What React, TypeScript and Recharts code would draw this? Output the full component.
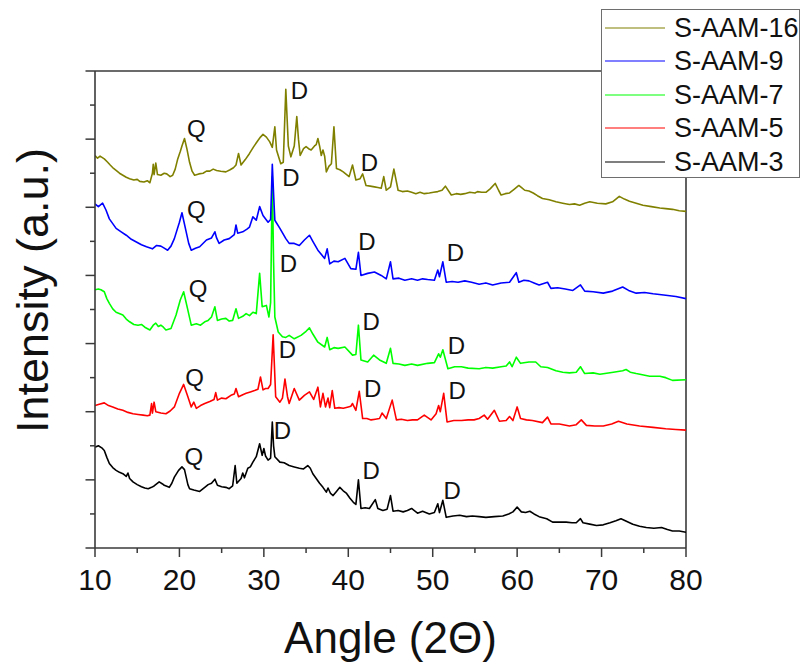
import React from 'react';
import { LineChart, Line, XAxis, YAxis, ReferenceLine, ReferenceDot, Legend } from 'recharts';

const FONT = '"Liberation Sans", Arial, Helvetica, sans-serif';
const AXIS_COLOR = '#3a3a3a';
const TEXT_COLOR = '#111';

// 2θ ticks (every 5°, labelled every 10°) and intensity ticks (labels hidden)
const ANGLE_TICKS = [10, 15, 20, 25, 30, 35, 40, 45, 50, 55, 60, 65, 70, 75, 80];
const COUNT_TICKS = [0, 50, 100, 150, 200, 250, 300, 350, 400, 450, 500, 550, 600, 650, 700];

// diffractograms, [2θ, offset intensity]
const S_AAM_16: [number, number][] = [
  [10.0, 576], [10.3, 572], [10.6, 575], [11.1, 571], [11.5, 566], [11.8, 562], [12.2, 557], [12.5, 554],
  [12.9, 550], [13.3, 547], [13.7, 544], [14.1, 542], [14.6, 540], [15.0, 541], [15.3, 538], [15.8, 537],
  [16.2, 539], [16.5, 536], [16.8, 550], [16.9, 563], [17.0, 548], [17.2, 565], [17.4, 548], [17.8, 547],
  [18.2, 550], [18.5, 549], [18.9, 545], [19.2, 547], [19.5, 556], [19.8, 571], [20.1, 582], [20.3, 590],
  [20.6, 601], [20.9, 585], [21.2, 566], [21.5, 553], [21.8, 547], [22.3, 549], [22.8, 550], [23.2, 553],
  [23.6, 553], [24.0, 556], [24.4, 554], [24.9, 553], [25.5, 552], [26.0, 555], [26.4, 558], [26.7, 562],
  [27.0, 579], [27.3, 562], [27.8, 570], [28.3, 579], [28.8, 589], [29.3, 598], [29.6, 603], [29.9, 607],
  [30.3, 603], [30.7, 596], [31.0, 588], [31.3, 618], [31.5, 584], [32.0, 564], [32.3, 566], [32.6, 673],
  [32.9, 590], [33.2, 574], [33.6, 590], [33.9, 633], [34.1, 600], [34.3, 576], [34.7, 586], [35.0, 589],
  [35.3, 586], [35.6, 584], [36.0, 590], [36.2, 592], [36.4, 601], [36.6, 590], [36.8, 576], [37.0, 584],
  [37.2, 575], [37.4, 552], [37.7, 560], [38.0, 564], [38.3, 618], [38.6, 557], [39.0, 555], [39.4, 552],
  [39.8, 548], [40.1, 545], [40.5, 562], [40.9, 540], [41.4, 542], [41.7, 549], [42.1, 532], [42.6, 531],
  [43.1, 530], [43.5, 529], [43.9, 528], [44.2, 545], [44.5, 525], [45.0, 530], [45.4, 556], [45.9, 525],
  [46.4, 523], [47.0, 524], [47.5, 522], [48.0, 520], [48.5, 522], [49.0, 520], [49.6, 521], [50.1, 522],
  [50.6, 523], [51.1, 525], [51.5, 531], [52.2, 518], [52.8, 520], [53.3, 519], [53.8, 520], [54.4, 522],
  [55.0, 521], [55.3, 523], [55.8, 522], [56.3, 522], [56.8, 527], [57.4, 535], [57.8, 525], [58.1, 518],
  [58.6, 520], [59.1, 521], [59.6, 526], [60.2, 532], [60.6, 528], [60.9, 525], [61.4, 524], [61.9, 521],
  [62.4, 517], [63.0, 513], [63.8, 511], [64.6, 508], [65.4, 506], [66.2, 504], [66.8, 505], [67.4, 503],
  [68.0, 506], [68.6, 508], [69.5, 506], [70.5, 505], [71.3, 508], [72.1, 516], [72.7, 512], [73.3, 509],
  [74.1, 506], [74.9, 503], [75.9, 501], [76.9, 499], [77.6, 498], [78.4, 497], [79.2, 495], [80.0, 494],
];

const S_AAM_9: [number, number][] = [
  [10.0, 505], [10.4, 501], [10.9, 506], [11.3, 496], [11.7, 483], [12.1, 476], [12.5, 469], [13.1, 464],
  [13.7, 459], [14.3, 453], [14.9, 449], [15.5, 445], [16.1, 442], [16.8, 439], [17.3, 444], [17.8, 443],
  [18.2, 440], [18.6, 437], [19.0, 443], [19.4, 454], [20.0, 478], [20.3, 492], [20.8, 464], [21.1, 447],
  [21.4, 437], [21.9, 440], [22.4, 442], [23.2, 452], [23.8, 455], [24.2, 464], [24.4, 455], [24.7, 447],
  [25.3, 452], [25.9, 454], [26.5, 460], [26.7, 474], [26.9, 462], [27.5, 464], [28.0, 468], [28.3, 471],
  [28.7, 486], [29.1, 481], [29.5, 501], [29.9, 488], [30.5, 478], [30.8, 482], [31.0, 563], [31.15, 520],
  [31.3, 481], [31.9, 469], [32.6, 454], [33.0, 447], [33.6, 447], [34.2, 444], [34.8, 452], [35.4, 459],
  [35.8, 450], [36.4, 437], [37.2, 425], [37.5, 439], [37.8, 417], [38.3, 421], [38.8, 420], [39.6, 425],
  [40.3, 410], [40.9, 409], [41.2, 434], [41.5, 400], [42.3, 403], [43.1, 405], [43.9, 400], [44.5, 395],
  [45.0, 420], [45.3, 395], [46.0, 396], [46.7, 393], [47.5, 395], [48.2, 393], [48.8, 395], [49.4, 394],
  [50.2, 393], [50.6, 408], [50.8, 398], [51.2, 420], [51.6, 390], [52.3, 391], [53.0, 390], [53.8, 392],
  [54.6, 390], [55.5, 387], [56.3, 389], [57.1, 386], [58.1, 389], [59.1, 390], [59.9, 404], [60.2, 390],
  [60.8, 393], [61.4, 392], [62.0, 389], [62.6, 386], [63.6, 390], [64.0, 381], [64.8, 382], [65.7, 380],
  [66.6, 378], [67.5, 386], [68.0, 377], [69.0, 376], [70.2, 374], [71.3, 377], [72.5, 383], [73.2, 378],
  [74.1, 374], [75.1, 375], [76.1, 373], [77.6, 371], [78.8, 369], [80.0, 366],
];

const S_AAM_7: [number, number][] = [
  [10.0, 379], [10.4, 380], [10.7, 379], [11.1, 376], [11.4, 366], [11.7, 359], [12.1, 351], [12.5, 346],
  [13.3, 342], [13.7, 336], [14.1, 332], [14.6, 328], [15.1, 327], [15.5, 328], [15.9, 324], [16.5, 320],
  [16.9, 327], [17.2, 330], [17.5, 325], [17.8, 327], [18.1, 324], [18.4, 320], [19.0, 322], [19.6, 342],
  [20.1, 364], [20.5, 376], [21.0, 349], [21.4, 327], [22.0, 329], [22.5, 327], [23.0, 332], [23.4, 334],
  [23.8, 339], [24.2, 354], [24.5, 334], [25.0, 336], [25.5, 337], [25.9, 333], [26.3, 334], [26.7, 351],
  [27.0, 337], [27.5, 340], [27.9, 344], [28.3, 341], [28.7, 346], [29.1, 344], [29.5, 403], [29.8, 354],
  [30.3, 356], [30.6, 339], [30.8, 360], [31.0, 545], [31.15, 420], [31.3, 339], [31.7, 317], [32.2, 310],
  [32.6, 309], [33.0, 312], [33.6, 307], [34.4, 312], [35.0, 318], [35.4, 323], [35.8, 314], [36.4, 302],
  [37.2, 295], [37.5, 309], [37.8, 291], [38.3, 294], [38.8, 293], [39.6, 295], [40.5, 283], [40.9, 284],
  [41.2, 327], [41.5, 276], [42.3, 273], [43.0, 283], [43.7, 276], [44.5, 271], [45.0, 293], [45.3, 271],
  [46.0, 270], [46.7, 268], [47.5, 270], [48.2, 268], [49.4, 271], [50.2, 272], [50.7, 285], [50.9, 280],
  [51.2, 291], [51.8, 263], [52.6, 266], [53.4, 266], [54.2, 264], [55.5, 263], [56.3, 265], [57.1, 264],
  [58.1, 266], [58.7, 267], [59.1, 273], [59.4, 266], [59.9, 280], [60.4, 271], [61.4, 273], [62.2, 273],
  [62.8, 266], [63.6, 265], [64.6, 260], [65.4, 258], [66.2, 257], [67.0, 258], [67.5, 266], [68.0, 256],
  [69.0, 257], [69.8, 255], [71.4, 258], [72.5, 260], [72.9, 262], [73.4, 258], [74.1, 256], [75.7, 252],
  [76.9, 252], [77.6, 250], [78.4, 246], [80.0, 247],
];

const S_AAM_5: [number, number][] = [
  [10.0, 209], [10.5, 211], [11.1, 213], [11.6, 209], [12.1, 207], [12.7, 204], [13.3, 202], [13.9, 199],
  [14.5, 197], [15.1, 196], [15.7, 195], [16.2, 194], [16.5, 195], [16.7, 212], [16.8, 198], [17.0, 214],
  [17.2, 200], [17.8, 198], [18.4, 197], [18.9, 201], [19.4, 207], [20.0, 227], [20.5, 240], [21.0, 222],
  [21.4, 207], [21.7, 214], [22.0, 205], [22.5, 209], [23.0, 212], [23.6, 215], [24.1, 218], [24.3, 228],
  [24.5, 217], [25.0, 220], [25.5, 219], [26.1, 224], [26.5, 226], [26.7, 234], [27.0, 222], [27.5, 225],
  [27.9, 227], [28.4, 229], [28.9, 231], [29.3, 233], [29.6, 251], [29.9, 232], [30.2, 234], [30.5, 234],
  [30.8, 240], [31.1, 313], [31.4, 222], [31.9, 214], [32.2, 220], [32.5, 248], [32.8, 222], [33.0, 212],
  [33.6, 234], [34.2, 217], [34.8, 224], [35.4, 229], [35.9, 218], [36.4, 236], [36.7, 207], [37.0, 227],
  [37.3, 207], [37.6, 220], [37.8, 206], [38.1, 231], [38.4, 205], [38.9, 206], [39.4, 205], [40.0, 207],
  [40.3, 208], [40.5, 212], [40.9, 202], [41.3, 230], [41.7, 190], [42.2, 190], [42.7, 188], [43.2, 189],
  [43.7, 190], [44.0, 198], [44.5, 190], [45.2, 217], [45.7, 188], [46.3, 189], [47.0, 187], [47.6, 188],
  [48.2, 188], [49.0, 195], [49.8, 188], [50.4, 197], [50.7, 209], [50.9, 200], [51.3, 227], [51.7, 185],
  [52.5, 187], [53.4, 187], [54.2, 188], [54.9, 188], [55.5, 190], [56.1, 195], [56.5, 189], [57.3, 202],
  [57.9, 186], [58.7, 187], [59.1, 193], [59.5, 187], [60.0, 207], [60.4, 190], [61.1, 188], [61.8, 187],
  [63.0, 184], [63.6, 192], [64.0, 182], [65.0, 182], [66.2, 179], [67.0, 181], [67.6, 188], [68.2, 180],
  [69.2, 179], [70.2, 179], [71.2, 182], [72.0, 186], [73.0, 182], [74.5, 179], [76.1, 177], [77.6, 175],
  [78.8, 174], [80.0, 173],
];

const S_AAM_3: [number, number][] = [
  [10.0, 148], [10.4, 150], [10.8, 147], [11.1, 143], [11.4, 133], [11.7, 124], [12.1, 118], [12.5, 114],
  [12.9, 111], [13.3, 109], [13.7, 105], [13.9, 110], [14.1, 102], [14.5, 97], [15.0, 93], [15.5, 90],
  [15.9, 88], [16.3, 87], [16.7, 89], [17.0, 91], [17.3, 94], [17.6, 97], [18.0, 94], [18.2, 92],
  [18.8, 89], [19.1, 95], [19.4, 104], [19.9, 114], [20.3, 119], [20.6, 115], [20.8, 104], [21.0, 93],
  [21.2, 87], [21.7, 85], [22.4, 83], [23.0, 89], [23.4, 93], [23.8, 95], [24.2, 101], [24.5, 92],
  [25.0, 90], [25.5, 89], [25.9, 87], [26.3, 91], [26.6, 121], [26.8, 95], [27.3, 102], [27.5, 110],
  [27.7, 103], [28.1, 117], [28.4, 119], [28.7, 126], [29.1, 134], [29.5, 153], [29.8, 136], [30.0, 146],
  [30.2, 135], [30.5, 129], [30.8, 132], [31.0, 185], [31.15, 150], [31.3, 134], [31.9, 126], [32.4, 125],
  [33.0, 121], [33.6, 119], [34.2, 117], [34.7, 116], [35.2, 121], [35.5, 117], [35.8, 109], [36.2, 102],
  [36.6, 95], [37.0, 89], [37.4, 82], [37.6, 88], [37.9, 80], [38.2, 77], [38.6, 83], [39.0, 89],
  [39.4, 84], [39.8, 80], [40.2, 73], [40.6, 67], [40.9, 64], [41.2, 100], [41.5, 58], [42.0, 59],
  [42.5, 58], [43.2, 71], [43.5, 58], [44.1, 55], [44.6, 57], [45.0, 77], [45.3, 54], [45.9, 55],
  [46.5, 53], [47.0, 55], [47.5, 58], [48.2, 51], [48.8, 54], [49.6, 50], [50.2, 52], [50.6, 65],
  [50.8, 52], [51.2, 70], [51.6, 45], [52.4, 47], [53.2, 48], [54.0, 46], [54.7, 47], [55.5, 46],
  [56.3, 45], [57.3, 46], [58.3, 47], [59.0, 50], [59.5, 53], [60.0, 60], [60.5, 53], [61.0, 52],
  [61.5, 54], [62.0, 50], [62.6, 46], [63.5, 43], [64.2, 38], [65.0, 38], [65.8, 38], [66.5, 37],
  [67.0, 37], [67.5, 43], [67.8, 37], [68.6, 35], [69.4, 33], [70.2, 34], [71.0, 37], [71.7, 40],
  [72.3, 43], [73.0, 39], [73.7, 35], [74.5, 32], [75.3, 30], [76.2, 29], [77.1, 30], [77.8, 27],
  [78.4, 25], [79.2, 25], [80.0, 23],
];

// phase tags: Q = quartz, D = dolomite-type reflections
const PEAK_TAGS: { angle: number; counts: number; tag: string }[] = [
  { angle: 22.0, counts: 616, tag: 'Q' }, { angle: 34.2, counts: 672, tag: 'D' }, { angle: 42.5, counts: 566, tag: 'D' },
  { angle: 22.0, counts: 497, tag: 'Q' }, { angle: 33.2, counts: 544, tag: 'D' }, { angle: 42.2, counts: 450, tag: 'D' },
  { angle: 52.7, counts: 433, tag: 'D' },
  { angle: 22.2, counts: 381, tag: 'Q' }, { angle: 32.9, counts: 418, tag: 'D' }, { angle: 42.7, counts: 332, tag: 'D' },
  { angle: 52.8, counts: 297, tag: 'D' },
  { angle: 21.8, counts: 250, tag: 'Q' }, { angle: 32.8, counts: 292, tag: 'D' }, { angle: 42.9, counts: 234, tag: 'D' },
  { angle: 52.9, counts: 231, tag: 'D' },
  { angle: 21.7, counts: 135, tag: 'Q' }, { angle: 32.2, counts: 172, tag: 'D' }, { angle: 42.7, counts: 113, tag: 'D' },
  { angle: 52.3, counts: 84, tag: 'D' },
];

// legend order, top to bottom
const SERIES = [
  { name: 'S-AAM-16', color: '#808000', points: S_AAM_16 },
  { name: 'S-AAM-9', color: '#0000ff', points: S_AAM_9 },
  { name: 'S-AAM-7', color: '#00ff00', points: S_AAM_7 },
  { name: 'S-AAM-5', color: '#ff0000', points: S_AAM_5 },
  { name: 'S-AAM-3', color: '#000000', points: S_AAM_3 },
];

const toRows = (pts: [number, number][]) => pts.map(([angle, counts]) => ({ angle, counts }));

function AngleTick({ x, y, payload }: any) {
  const major = payload.value % 10 === 0;
  return (
    <g>
      <line x1={x} x2={x} y1={y} y2={y + (major ? 9 : 5)} stroke={AXIS_COLOR} strokeWidth={1.5} />
      {major && (
        <text x={x} y={y + 42} textAnchor="middle" fontSize={30} fill={TEXT_COLOR} fontFamily={FONT}>
          {payload.value}
        </text>
      )}
    </g>
  );
}

function CountTick({ x, y, payload }: any) {
  const major = payload.value % 100 === 0;
  return <line x1={x} x2={x - (major ? 9.5 : 5)} y1={y} y2={y} stroke={AXIS_COLOR} strokeWidth={1.5} />;
}

function LegendBox() {
  return (
    <div
      style={{
        width: 199,
        height: 169,
        boxSizing: 'border-box',
        border: '1.5px solid #6e6e6e',
        background: '#fff',
        paddingTop: 1,
        fontFamily: FONT,
      }}
    >
      {SERIES.map((s) => (
        <div key={s.name} style={{ height: 33.5, display: 'flex', alignItems: 'center' }}>
          <svg width={66} height={10} style={{ marginLeft: 3 }}>
            <line x1={0} x2={60} y1={5} y2={5} stroke={s.color} strokeWidth={1.2} />
          </svg>
          <span style={{ fontSize: 27, color: TEXT_COLOR, marginLeft: 3, lineHeight: '30px' }}>{s.name}</span>
        </div>
      ))}
    </div>
  );
}

export default function App() {
  return (
    <div style={{ position: 'absolute', left: 0, top: 0, width: 801, height: 668, background: '#fff', fontFamily: FONT }}>
      <LineChart width={801} height={668} margin={{ top: 71, right: 115, bottom: 0, left: 0 }}>
        <XAxis
          type="number"
          dataKey="angle"
          domain={[10, 80]}
          ticks={ANGLE_TICKS}
          interval={0}
          height={120}
          tickSize={0}
          tickMargin={0}
          tickLine={false}
          tick={<AngleTick />}
          axisLine={{ stroke: AXIS_COLOR, strokeWidth: 1.6 }}
          allowDataOverflow
          label={(props: any) => {
            const vb = props.viewBox;
            return (
              <text x={vb.x + vb.width / 2} y={vb.y + 105} textAnchor="middle" fontSize={44} fill={TEXT_COLOR} fontFamily={FONT}>
                Angle (2Θ)
              </text>
            );
          }}
        />
        <YAxis
          type="number"
          domain={[0, 700]}
          ticks={COUNT_TICKS}
          interval={0}
          width={95}
          tickSize={0}
          tickMargin={0}
          tickLine={false}
          tick={<CountTick />}
          axisLine={{ stroke: AXIS_COLOR, strokeWidth: 1.6 }}
          allowDataOverflow
          label={(props: any) => {
            const vb = props.viewBox;
            const cx = 48;
            const cy = vb.y + vb.height / 2 - 19;
            return (
              <text
                x={cx}
                y={cy}
                transform={`rotate(-90 ${cx} ${cy})`}
                textAnchor="middle"
                fontSize={45}
                fill={TEXT_COLOR}
                fontFamily={FONT}
              >
                Intensity (a.u.)
              </text>
            );
          }}
        />
        {/* closing frame on top and right */}
        <ReferenceLine y={700} stroke={AXIS_COLOR} strokeWidth={1.6} />
        <ReferenceLine x={80} stroke={AXIS_COLOR} strokeWidth={1.6} />
        {[...SERIES].reverse().map((s) => (
          <Line
            key={s.name}
            name={s.name}
            data={toRows(s.points)}
            dataKey="counts"
            type="linear"
            stroke={s.color}
            strokeWidth={1.6}
            strokeLinejoin="round"
            dot={false}
            activeDot={false}
            isAnimationActive={false}
          />
        ))}
        {PEAK_TAGS.map((p, i) => (
          <ReferenceDot
            key={i}
            x={p.angle}
            y={p.counts}
            r={0}
            shape={(props: any) => (
              <text x={props.cx} y={props.cy} textAnchor="middle" dominantBaseline="central" fontSize={24} fill={TEXT_COLOR} fontFamily={FONT}>
                {p.tag}
              </text>
            )}
          />
        ))}
        <Legend
          layout="vertical"
          align="center"
          verticalAlign="middle"
          wrapperStyle={{ left: 601, top: 9 }}
          content={() => <LegendBox />}
        />
      </LineChart>
    </div>
  );
}
